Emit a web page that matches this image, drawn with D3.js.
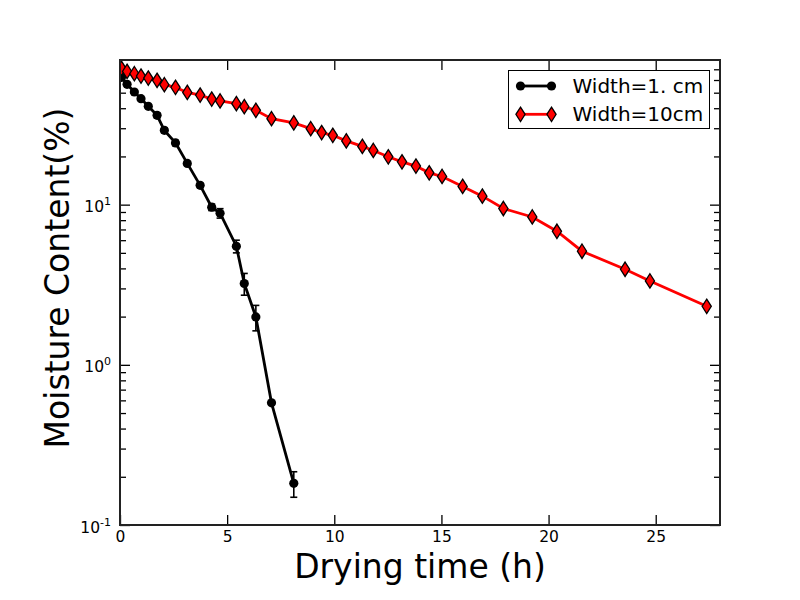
<!DOCTYPE html>
<html>
<head>
<meta charset="utf-8">
<script src="https://cdn.jsdelivr.net/npm/d3@7"></script>
<style>
  body { margin: 0; background: #fff; }
  svg { font-family: "DejaVu Sans", sans-serif; }
</style>
</head>
<body>
<svg id="chart"></svg>
<script>
// drying time (h), shared by both samples
const times = [0.07, 0.33, 0.67, 0.98, 1.32, 1.73, 2.07, 2.59, 3.14, 3.74, 4.28, 4.67, 5.43, 5.80, 6.34,
               7.07, 8.11, 8.90, 9.41, 9.93, 10.56, 11.31, 11.82, 12.52, 13.16, 13.81, 14.43, 15.03,
               15.99, 16.91, 17.89, 19.24, 20.39, 21.56, 23.57, 24.73, 27.38];

// Width=1. cm (first 17 times)
const mcWidth1 = [62.4, 56.4, 50.5, 45.9, 41.1, 36.1, 29.1, 24.3, 18.1, 13.2, 9.64, 8.84, 5.50, 3.22, 1.99, 0.579, 0.182];
const mcWidth1Err = [1.2, 1.0, 0.8, 0.8, 0.8, 1.2, 1.0, 0.9, 0.4, 0.4, 0.45, 0.6, 0.5, 0.5, 0.36, 0.01, 0.033];

// Width=10cm
const mcWidth10 = [71.0, 67.9, 65.7, 63.5, 61.7, 59.7, 56.1, 54.0, 50.2, 48.3, 45.6, 44.4, 42.7, 40.9, 38.8,
                   34.4, 32.4, 29.8, 28.2, 27.1, 25.0, 23.1, 21.8, 19.9, 18.5, 17.4, 15.8, 15.0,
                   13.0, 11.3, 9.46, 8.38, 6.82, 5.12, 3.95, 3.34, 2.32];

const xTicks = [0, 5, 10, 15, 20, 25];
const yMajor = [0.1, 1, 10];
const yExp = ["-1", "0", "1"];
const legendLabels = ["Width=1. cm", "Width=10cm"];

const margin = {top: 60, right: 80, bottom: 75, left: 120},
    width = 800 - margin.left - margin.right,
    height = 600 - margin.top - margin.bottom;

const svgRoot = d3.select("#chart")
    .attr("width", 800)
    .attr("height", 600);

const svg = svgRoot.append("g")
    .attr("transform", `translate(${margin.left},${margin.top})`);

const x = d3.scaleLinear().domain([0, 28]).range([0, width]);
const y = d3.scaleLog().domain([0.1, 80]).range([height, 0]);

// minor ticks of the log axis
const yMinor = [];
[0.1, 1, 10].forEach(dec => {
    for (let k = 2; k <= 9; k++) {
        const v = dec * k;
        if (v < 80) yMinor.push(v);
    }
});

svg.append("defs").append("clipPath")
    .attr("id", "plotclip")
    .append("rect")
    .attr("width", width)
    .attr("height", height);

// axes, ticks pointing inward
function styleAxis(g) {
    g.attr("font-family", "DejaVu Sans, sans-serif").attr("font-size", 15.5);
    g.select(".domain").remove();
    g.selectAll(".tick line").attr("stroke", "#000").attr("stroke-width", 1.3);
}

svg.append("g")
    .attr("transform", `translate(0,${height})`)
    .call(d3.axisBottom(x).tickValues(xTicks).tickSize(-10).tickPadding(6).tickFormat(d3.format("d")))
    .call(styleAxis)
    .call(g => g.selectAll("text").attr("fill", "#000"));

svg.append("g")
    .call(d3.axisTop(x).tickValues(xTicks).tickSize(-10).tickFormat(""))
    .call(styleAxis);

svg.append("g")
    .call(d3.axisLeft(y).tickValues(yMajor).tickSize(-10).tickFormat(""))
    .call(styleAxis)
    .call(g => g.selectAll(".tick").append("text")
        .attr("x", -9)
        .attr("y", 7)
        .attr("text-anchor", "end")
        .attr("fill", "#000")
        .each(function(d, i) {
            const t = d3.select(this);
            t.append("tspan").text("10");
            t.append("tspan").attr("dy", -7).attr("font-size", 11).text(yExp[i]);
        }));

svg.append("g")
    .call(d3.axisLeft(y).tickValues(yMinor).tickSize(-6).tickFormat(""))
    .call(styleAxis);

svg.append("g")
    .attr("transform", `translate(${width},0)`)
    .call(d3.axisRight(y).tickValues(yMajor).tickSize(-10).tickFormat(""))
    .call(styleAxis);

svg.append("g")
    .attr("transform", `translate(${width},0)`)
    .call(d3.axisRight(y).tickValues(yMinor).tickSize(-6).tickFormat(""))
    .call(styleAxis);

// data
const data1 = mcWidth1.map((v, i) => ({t: times[i], v: v, e: mcWidth1Err[i]}));
const data10 = mcWidth10.map((v, i) => ({t: times[i], v: v}));

const line = d3.line()
    .x(d => x(d.t))
    .y(d => y(d.v));

const plot = svg.append("g").attr("clip-path", "url(#plotclip)");

// Width=1. cm : line + error bars + circles
plot.append("path")
    .datum(data1)
    .attr("fill", "none")
    .attr("stroke", "#000")
    .attr("stroke-width", 2.8)
    .attr("d", line);

const eb = plot.append("g")
    .attr("stroke", "#000")
    .attr("stroke-width", 1.6)
    .selectAll("g")
    .data(data1)
    .join("g");

eb.append("line")
    .attr("x1", d => x(d.t)).attr("x2", d => x(d.t))
    .attr("y1", d => y(d.v - d.e)).attr("y2", d => y(d.v + d.e));
eb.append("line")
    .attr("x1", d => x(d.t) - 3.5).attr("x2", d => x(d.t) + 3.5)
    .attr("y1", d => y(d.v - d.e)).attr("y2", d => y(d.v - d.e));
eb.append("line")
    .attr("x1", d => x(d.t) - 3.5).attr("x2", d => x(d.t) + 3.5)
    .attr("y1", d => y(d.v + d.e)).attr("y2", d => y(d.v + d.e));

plot.append("g")
    .selectAll("circle")
    .data(data1)
    .join("circle")
    .attr("cx", d => x(d.t))
    .attr("cy", d => y(d.v))
    .attr("r", 4.6)
    .attr("fill", "#000");

// Width=10cm : red line + diamonds
const diamond = "M0,-7.2L4.6,0L0,7.2L-4.6,0Z";

plot.append("path")
    .datum(data10)
    .attr("fill", "none")
    .attr("stroke", "#ff0000")
    .attr("stroke-width", 2.8)
    .attr("d", line);

plot.append("g")
    .selectAll("path")
    .data(data10)
    .join("path")
    .attr("transform", d => `translate(${x(d.t)},${y(d.v)})`)
    .attr("d", diamond)
    .attr("fill", "#ff0000")
    .attr("stroke", "#000")
    .attr("stroke-width", 1.3);

// frame
svg.append("rect")
    .attr("width", width)
    .attr("height", height)
    .attr("fill", "none")
    .attr("stroke", "#222")
    .attr("stroke-width", 2);

// axis labels
svg.append("text")
    .attr("x", width / 2)
    .attr("y", 578 - margin.top)
    .attr("text-anchor", "middle")
    .attr("font-size", 33)
    .attr("fill", "#000")
    .text("Drying time (h)");

svg.append("text")
    .attr("transform", `translate(${69 - margin.left},${278 - margin.top}) rotate(-90)`)
    .attr("text-anchor", "middle")
    .attr("font-size", 33)
    .attr("fill", "#000")
    .text("Moisture Content(%)");

// legend
const lg = svg.append("g").attr("transform", `translate(${508.5 - margin.left},${70.5 - margin.top})`);
lg.append("rect")
    .attr("width", 201)
    .attr("height", 58)
    .attr("fill", "#fff")
    .attr("stroke", "#000")
    .attr("stroke-width", 1);

const rows = lg.selectAll(".row")
    .data(legendLabels)
    .join("g")
    .attr("class", "row")
    .attr("transform", (d, i) => `translate(0,${15.5 + i * 28.3})`);

rows.append("line")
    .attr("x1", 12).attr("x2", 43)
    .attr("stroke", (d, i) => i === 0 ? "#000" : "#ff0000")
    .attr("stroke-width", 2.8);

rows.each(function(d, i) {
    const r = d3.select(this);
    [12, 43].forEach(px => {
        if (i === 0) {
            r.append("circle").attr("cx", px).attr("r", 4.6).attr("fill", "#000");
        } else {
            r.append("path")
                .attr("transform", `translate(${px},0)`)
                .attr("d", diamond)
                .attr("fill", "#ff0000")
                .attr("stroke", "#000")
                .attr("stroke-width", 1.3);
        }
    });
});

rows.append("text")
    .attr("x", 64)
    .attr("y", 7)
    .attr("font-size", 20)
    .attr("fill", "#000")
    .text(d => d);
</script>
</body>
</html>
